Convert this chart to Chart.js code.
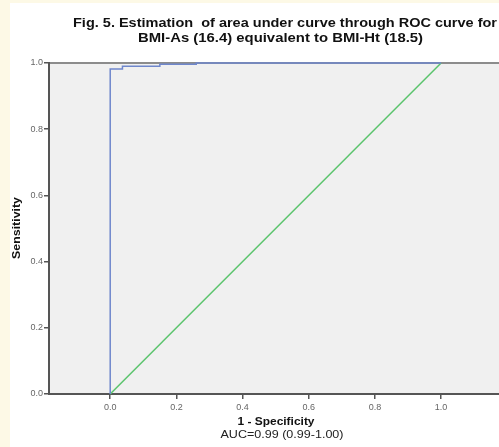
<!DOCTYPE html>
<html>
<head>
<meta charset="utf-8">
<script src="https://cdn.jsdelivr.net/npm/chart.js@4"></script>
<style>
  html, body { margin: 0; padding: 0; background: #fdf9e6; }
  #wrap { position: absolute; left: 10px; top: 3px; width: 489px; height: 444px; background: #fff; }
</style>
</head>
<body>
<div id="wrap"><canvas id="roc" width="489" height="444"></canvas></div>
<script>
// ROC curve
const rocFpr = [0, 0, 0.037, 0.037, 0.15, 0.15, 0.26, 0.26, 1.0];
const rocTpr = [0, 0.982, 0.982, 0.99, 0.99, 0.996, 0.996, 1.0, 1.0];
// reference diagonal
const refFpr = [0, 1];
const refTpr = [0, 1];
// tick labels
const xTicks = [0, 0.2, 0.4, 0.6, 0.8, 1.0];
const yTicks = [0, 0.2, 0.4, 0.6, 0.8, 1.0];

const titleLines = ['Fig. 5. Estimation  of area under curve through ROC curve for', 'BMI-As (16.4) equivalent to BMI-Ht (18.5)'];
const xTitle = '1 - Specificity';
const xNote = 'AUC=0.99 (0.99-1.00)';
const yTitle = 'Sensitivity';

const toPoints = (xs, ys) => xs.map((x, i) => ({ x: x, y: ys[i] }));

// draw text squeezed/stretched to a given width
function fitText(ctx, text, cx, cy, width, font) {
  ctx.save();
  ctx.font = font;
  const w = ctx.measureText(text).width;
  ctx.translate(cx, cy);
  ctx.scale(width / w, 1);
  ctx.textAlign = 'center';
  ctx.textBaseline = 'middle';
  ctx.fillText(text, 0, 0);
  ctx.restore();
}

const decor = {
  id: 'decor',
  beforeDraw(chart) {
    const { ctx, chartArea: a } = chart;
    ctx.save();
    ctx.fillStyle = '#f0f0f0';
    ctx.fillRect(a.left, a.top, a.right - a.left, a.bottom - a.top);
    ctx.strokeStyle = '#8c8c8c';
    ctx.lineWidth = 2;
    ctx.beginPath();
    ctx.moveTo(a.left, a.top);
    ctx.lineTo(a.right, a.top);
    ctx.stroke();
    ctx.restore();
  },
  afterDraw(chart) {
    const ctx = chart.ctx;
    ctx.save();
    ctx.fillStyle = '#111';
    fitText(ctx, titleLines[0], 275, 20, 424, 'bold 13px "Liberation Sans", Arial, sans-serif');
    fitText(ctx, titleLines[1], 270.5, 35, 285, 'bold 13px "Liberation Sans", Arial, sans-serif');
    fitText(ctx, xTitle, 266, 419, 77, 'bold 11px "Liberation Sans", Arial, sans-serif');
    ctx.fillStyle = '#222';
    fitText(ctx, xNote, 272, 432, 123, '11px "Liberation Sans", Arial, sans-serif');
    ctx.fillStyle = '#111';
    ctx.translate(7, 225);
    ctx.rotate(-Math.PI / 2);
    fitText(ctx, yTitle, 0, 0, 62, 'bold 11px "Liberation Sans", Arial, sans-serif');
    ctx.restore();
  }
};

new Chart(document.getElementById('roc').getContext('2d'), {
  type: 'scatter',
  data: {
    datasets: [
      {
        label: 'ROC',
        data: toPoints(rocFpr, rocTpr),
        showLine: true,
        borderColor: '#6f87cc',
        borderWidth: 1.5,
        pointRadius: 0,
        tension: 0,
        clip: 3
      },
      {
        label: 'Reference',
        data: toPoints(refFpr, refTpr),
        showLine: true,
        borderColor: '#5ac46c',
        borderWidth: 1.5,
        pointRadius: 0,
        clip: 3
      }
    ]
  },
  options: {
    responsive: false,
    animation: false,
    layout: { padding: { top: 60, left: 0, right: 0, bottom: 0 } },
    plugins: { legend: { display: false }, tooltip: { enabled: false }, title: { display: false } },
    scales: {
      x: {
        type: 'linear',
        min: -0.185,
        max: 1.175,
        afterBuildTicks: s => { s.ticks = xTicks.map(v => ({ value: v })); },
        afterFit: s => { s.height = 53; },
        ticks: {
          callback: v => Number(v).toFixed(1),
          color: '#666',
          font: { size: 9, family: '"Liberation Sans", Arial, sans-serif' },
          padding: 3,
          maxRotation: 0
        },
        grid: { drawOnChartArea: false, drawTicks: true, tickLength: 5, color: '#555', lineWidth: 1.5 },
        border: { display: true, color: '#555', width: 2 }
      },
      y: {
        type: 'linear',
        min: 0,
        max: 1,
        afterBuildTicks: s => { s.ticks = yTicks.map(v => ({ value: v })); },
        afterFit: s => { s.width = 39; },
        ticks: {
          callback: v => Number(v).toFixed(1),
          color: '#666',
          font: { size: 9, family: '"Liberation Sans", Arial, sans-serif' },
          padding: 1
        },
        grid: { drawOnChartArea: false, drawTicks: true, tickLength: 5, color: '#555', lineWidth: 1.5 },
        border: { display: true, color: '#555', width: 2 }
      }
    }
  },
  plugins: [decor]
});
</script>
</body>
</html>
